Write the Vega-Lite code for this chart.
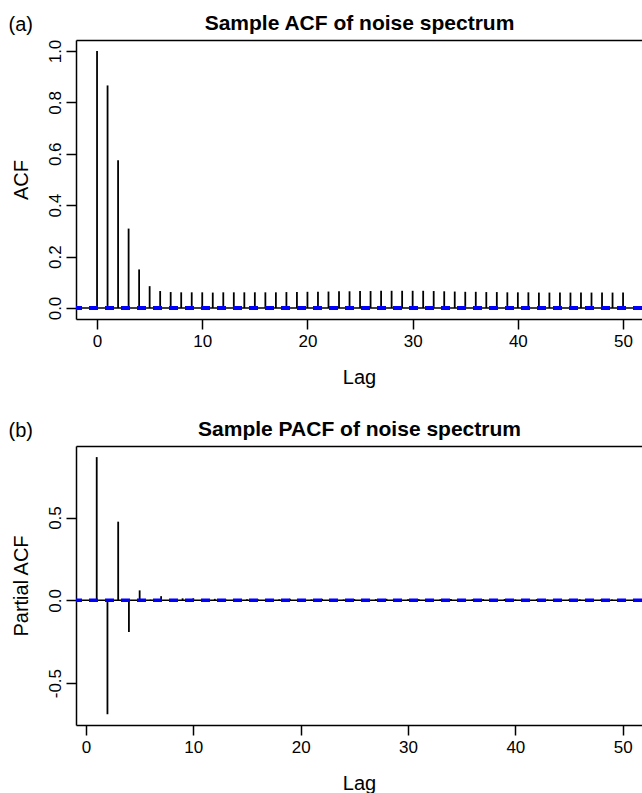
{
  "$schema": "https://vega.github.io/schema/vega-lite/v6.json",
  "padding": {"left": 8, "top": 12, "right": 0, "bottom": 0},
  "background": "white",
  "config": {
    "font": "Liberation Sans",
    "view": {"stroke": null},
    "axis": {"grid": false, "labelColor": "black", "titleColor": "black", "domainColor": "black", "tickColor": "black", "titleFontWeight": "normal"}
  },
  "datasets": {
    "acf": [
      {"lag": 0, "acf": 1.0}, {"lag": 1, "acf": 0.866}, {"lag": 2, "acf": 0.575}, {"lag": 3, "acf": 0.309},
      {"lag": 4, "acf": 0.150}, {"lag": 5, "acf": 0.085}, {"lag": 6, "acf": 0.066}, {"lag": 7, "acf": 0.062},
      {"lag": 8, "acf": 0.061}, {"lag": 9, "acf": 0.061}, {"lag": 10, "acf": 0.061}, {"lag": 11, "acf": 0.060},
      {"lag": 12, "acf": 0.061}, {"lag": 13, "acf": 0.061}, {"lag": 14, "acf": 0.061}, {"lag": 15, "acf": 0.061},
      {"lag": 16, "acf": 0.061}, {"lag": 17, "acf": 0.061}, {"lag": 18, "acf": 0.062}, {"lag": 19, "acf": 0.062},
      {"lag": 20, "acf": 0.063}, {"lag": 21, "acf": 0.063}, {"lag": 22, "acf": 0.064}, {"lag": 23, "acf": 0.065},
      {"lag": 24, "acf": 0.065}, {"lag": 25, "acf": 0.066}, {"lag": 26, "acf": 0.066}, {"lag": 27, "acf": 0.067},
      {"lag": 28, "acf": 0.067}, {"lag": 29, "acf": 0.067}, {"lag": 30, "acf": 0.067}, {"lag": 31, "acf": 0.067},
      {"lag": 32, "acf": 0.066}, {"lag": 33, "acf": 0.065}, {"lag": 34, "acf": 0.064}, {"lag": 35, "acf": 0.063},
      {"lag": 36, "acf": 0.063}, {"lag": 37, "acf": 0.062}, {"lag": 38, "acf": 0.062}, {"lag": 39, "acf": 0.061},
      {"lag": 40, "acf": 0.061}, {"lag": 41, "acf": 0.061}, {"lag": 42, "acf": 0.060}, {"lag": 43, "acf": 0.060},
      {"lag": 44, "acf": 0.060}, {"lag": 45, "acf": 0.060}, {"lag": 46, "acf": 0.060}, {"lag": 47, "acf": 0.060},
      {"lag": 48, "acf": 0.060}, {"lag": 49, "acf": 0.060}, {"lag": 50, "acf": 0.060}
    ],
    "pacf": [
      {"lag": 1, "pacf": 0.865}, {"lag": 2, "pacf": -0.688}, {"lag": 3, "pacf": 0.475}, {"lag": 4, "pacf": -0.191},
      {"lag": 5, "pacf": 0.060}, {"lag": 6, "pacf": 0.004}, {"lag": 7, "pacf": 0.025}, {"lag": 8, "pacf": 0.003},
      {"lag": 9, "pacf": 0.012}, {"lag": 10, "pacf": 0.012}, {"lag": 11, "pacf": 0.004}, {"lag": 12, "pacf": 0.009},
      {"lag": 13, "pacf": 0.006}, {"lag": 14, "pacf": 0.008}, {"lag": 15, "pacf": 0.006}, {"lag": 16, "pacf": 0.007},
      {"lag": 17, "pacf": 0.008}, {"lag": 18, "pacf": 0.006}, {"lag": 19, "pacf": 0.010}, {"lag": 20, "pacf": 0.007},
      {"lag": 21, "pacf": 0.005}, {"lag": 22, "pacf": 0.009}, {"lag": 23, "pacf": 0.006}, {"lag": 24, "pacf": 0.005},
      {"lag": 25, "pacf": 0.008}, {"lag": 26, "pacf": 0.006}, {"lag": 27, "pacf": 0.007}, {"lag": 28, "pacf": 0.009},
      {"lag": 29, "pacf": 0.005}, {"lag": 30, "pacf": 0.006}, {"lag": 31, "pacf": 0.007}, {"lag": 32, "pacf": 0.005},
      {"lag": 33, "pacf": 0.006}, {"lag": 34, "pacf": 0.008}, {"lag": 35, "pacf": 0.005}, {"lag": 36, "pacf": 0.006},
      {"lag": 37, "pacf": 0.007}, {"lag": 38, "pacf": 0.006}, {"lag": 39, "pacf": 0.008}, {"lag": 40, "pacf": 0.005},
      {"lag": 41, "pacf": 0.006}, {"lag": 42, "pacf": 0.007}, {"lag": 43, "pacf": 0.005}, {"lag": 44, "pacf": 0.006},
      {"lag": 45, "pacf": 0.005}, {"lag": 46, "pacf": 0.006}, {"lag": 47, "pacf": 0.005}, {"lag": 48, "pacf": 0.006},
      {"lag": 49, "pacf": 0.005}, {"lag": 50, "pacf": 0.005}
    ],
    "zero": [{"h": 0}],
    "ci": [{"ci": 0.003}, {"ci": -0.003}]
  },
  "bounds": "flush",
  "spacing": 127,
  "vconcat": [
    {
      "width": 566,
      "height": 279,
      "resolve": {"axis": {"x": "independent", "y": "independent"}},
      "layer": [
        {
          "data": {"name": "acf"},
          "mark": {"type": "rule", "strokeWidth": 1.8, "color": "black"},
          "encoding": {
            "x": {"field": "lag", "type": "quantitative", "scale": {"domain": [-2, 51.8], "nice": false, "zero": false},
              "axis": {"orient": "bottom", "values": [0, 10, 20, 30, 40, 50], "tickSize": 10, "tickWidth": 1.5, "domainWidth": 1.5, "labelFontSize": 17, "labelPadding": 4, "labelFlush": false, "title": "Lag", "titleFontSize": 20, "titleX": 283, "titleY": 64, "titleBaseline": "alphabetic", "titleAlign": "center"}},
            "y": {"field": "acf", "type": "quantitative", "scale": {"domain": [-0.0428, 1.0428], "nice": false, "zero": false},
              "axis": {"orient": "left", "values": [0, 0.2, 0.4, 0.6, 0.8, 1.0], "format": ".1f", "tickSize": 10, "tickWidth": 1.5, "domainWidth": 1.5, "labelAngle": 270, "labelAlign": "center", "labelBaseline": "alphabetic", "labelPadding": 6, "labelFontSize": 17, "labelFlush": false, "title": "ACF", "titleFontSize": 20, "titleX": -48.7, "titleY": 139.5, "titleAngle": 270, "titleAlign": "center", "titleBaseline": "alphabetic"}},
            "y2": {"datum": 0}
          }
        },
        {
          "data": {"name": "zero"},
          "mark": {"type": "rule", "strokeWidth": 1.5, "color": "black"},
          "encoding": {
            "x": {"datum": -2, "type": "quantitative",
              "axis": {"orient": "top", "ticks": false, "labels": false, "domainWidth": 1.5, "title": "Sample ACF of noise spectrum", "titleFontSize": 21, "titleFontWeight": "bold", "titleX": 283, "titleY": -11, "titleBaseline": "alphabetic", "titleAlign": "center"}},
            "x2": {"datum": 51.8},
            "y": {"field": "h", "type": "quantitative",
              "axis": {"orient": "right", "domain": false, "ticks": false, "labels": false, "title": "(a)", "titleFontSize": 20, "titleX": -634, "titleY": -10, "titleAngle": 0, "titleAlign": "left", "titleBaseline": "alphabetic"}}
          }
        },
        {
          "data": {"name": "ci"},
          "mark": {"type": "rule", "color": "#0000ff", "strokeWidth": 2.6, "strokeDash": [9, 7]},
          "encoding": {
            "y": {"field": "ci", "type": "quantitative", "axis": null}
          }
        }
      ]
    },
    {
      "width": 566,
      "height": 279,
      "resolve": {"axis": {"x": "independent", "y": "independent"}},
      "layer": [
        {
          "data": {"name": "pacf"},
          "mark": {"type": "rule", "strokeWidth": 1.8, "color": "black"},
          "encoding": {
            "x": {"field": "lag", "type": "quantitative", "scale": {"domain": [-0.93, 51.8], "nice": false, "zero": false},
              "axis": {"orient": "bottom", "values": [0, 10, 20, 30, 40, 50], "tickSize": 10, "tickWidth": 1.5, "domainWidth": 1.5, "labelFontSize": 17, "labelPadding": 4, "labelFlush": false, "title": "Lag", "titleFontSize": 20, "titleX": 283, "titleY": 64, "titleBaseline": "alphabetic", "titleAlign": "center"}},
            "y": {"field": "pacf", "type": "quantitative", "scale": {"domain": [-0.753, 0.932], "nice": false, "zero": false},
              "axis": {"orient": "left", "values": [-0.5, 0, 0.5], "labelExpr": "datum.value < 0 ? '-' + format(-datum.value, '.1f') : format(datum.value, '.1f')", "tickSize": 10, "tickWidth": 1.5, "domainWidth": 1.5, "labelAngle": 270, "labelAlign": "center", "labelBaseline": "alphabetic", "labelPadding": 6, "labelFontSize": 17, "labelFlush": false, "title": "Partial ACF", "titleFontSize": 20, "titleX": -48.7, "titleY": 139.5, "titleAngle": 270, "titleAlign": "center", "titleBaseline": "alphabetic"}},
            "y2": {"datum": 0}
          }
        },
        {
          "data": {"name": "zero"},
          "mark": {"type": "rule", "strokeWidth": 1.5, "color": "black"},
          "encoding": {
            "x": {"datum": -0.93, "type": "quantitative",
              "axis": {"orient": "top", "ticks": false, "labels": false, "domainWidth": 1.5, "title": "Sample PACF of noise spectrum", "titleFontSize": 21, "titleFontWeight": "bold", "titleX": 283, "titleY": -11, "titleBaseline": "alphabetic", "titleAlign": "center"}},
            "x2": {"datum": 51.8},
            "y": {"field": "h", "type": "quantitative",
              "axis": {"orient": "right", "domain": false, "ticks": false, "labels": false, "title": "(b)", "titleFontSize": 20, "titleX": -634, "titleY": -10, "titleAngle": 0, "titleAlign": "left", "titleBaseline": "alphabetic"}}
          }
        },
        {
          "data": {"name": "ci"},
          "mark": {"type": "rule", "color": "#0000ff", "strokeWidth": 2.6, "strokeDash": [9, 7]},
          "encoding": {
            "y": {"field": "ci", "type": "quantitative", "axis": null}
          }
        }
      ]
    }
  ]
}
